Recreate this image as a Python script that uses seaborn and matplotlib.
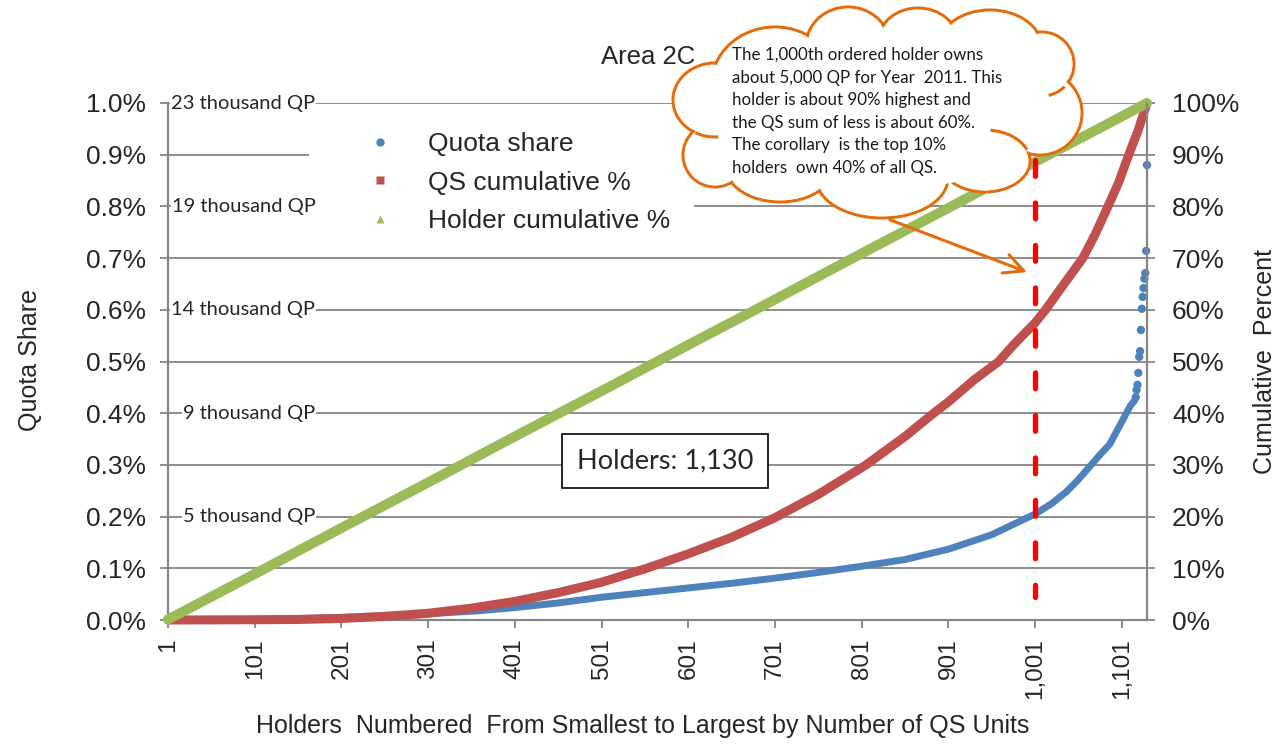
import matplotlib
matplotlib.use("Agg")
import matplotlib.pyplot as plt
import seaborn as sns
from matplotlib.lines import Line2D
from matplotlib.patches import Ellipse, Arc

# ---- values ----
# quota share (% of area total) along the ranked holders, dense part
share_rank = [1, 101, 201, 301, 361, 401, 451, 501, 551, 601, 651, 701, 751,
              801, 851, 901, 951, 1001, 1020, 1037, 1050, 1064, 1076, 1087,
              1095, 1103, 1111, 1116]
share_pct = [0.0, 0.001, 0.005, 0.012, 0.018, 0.024, 0.033, 0.044, 0.053,
             0.062, 0.071, 0.081, 0.092, 0.104, 0.117, 0.137, 0.165, 0.205,
             0.225, 0.248, 0.27, 0.297, 0.32, 0.34, 0.365, 0.39, 0.415, 0.425]
# largest holders, drawn as separate dots
top_rank = [1117, 1118, 1119, 1120, 1121, 1122, 1123, 1124, 1125, 1126,
            1127, 1128, 1129, 1130]
top_share = [0.431, 0.445, 0.455, 0.478, 0.509, 0.52, 0.561, 0.602, 0.625,
             0.642, 0.66, 0.671, 0.714, 0.88]

# QS cumulative %
cum_rank = [1, 101, 151, 201, 251, 301, 351, 401, 451, 501, 553, 601, 651,
            701, 751, 806, 851, 884, 901, 931, 959, 976, 1001, 1013, 1030,
            1056, 1070, 1085, 1097, 1109, 1120, 1130]
cum_qs = [0, 0.05, 0.1, 0.3, 0.7, 1.3, 2.3, 3.6, 5.3, 7.3, 10, 12.8, 16.0,
          19.8, 24.3, 30, 35.5, 40, 42.2, 46.5, 50, 53.2, 57.5, 60, 64, 70,
          74.5, 80, 84.5, 90, 94.8, 100]

# holder cumulative %
hold_rank = [1, 101, 201, 301, 401, 501, 601, 701, 801, 901, 1001, 1101, 1130]
hold_cum = [0.1, 8.9, 17.8, 26.6, 35.5, 44.3, 53.2, 62.0, 70.9, 79.7, 88.6,
            97.4, 100]

x_ticks = [1, 101, 201, 301, 401, 501, 601, 701, 801, 901, 1001, 1101]
x_labels = ['1', '101', '201', '301', '401', '501', '601', '701', '801',
            '901', '1,001', '1,101']
left_ticks = [0.0, 0.1, 0.2, 0.3, 0.4, 0.5, 0.6, 0.7, 0.8, 0.9, 1.0]
left_labels = ['0.0%', '0.1%', '0.2%', '0.3%', '0.4%', '0.5%', '0.6%',
               '0.7%', '0.8%', '0.9%', '1.0%']
right_ticks = [0, 10, 20, 30, 40, 50, 60, 70, 80, 90, 100]
right_labels = ['0%', '10%', '20%', '30%', '40%', '50%', '60%', '70%', '80%',
                '90%', '100%']
qp_levels = [100, 80, 60, 40, 20]   # same heights as 1.0% ... 0.2% on the left axis
qp_labels = ['23 thousand QP', '19 thousand QP', '14 thousand QP',
             '9 thousand QP', '5 thousand QP']
legend_labels = ['Quota share', 'QS cumulative %', 'Holder cumulative %']
cloud_lines = ['The 1,000th ordered holder owns',
               'about 5,000 QP for Year  2011. This',
               'holder is about 90% highest and',
               'the QS sum of less is about 60%.',
               'The corollary  is the top 10%',
               'holders  own 40% of all QS.']

BLUE = '#4F81BD'
RED = '#C0504D'
GREEN = '#9BBB59'
ORANGE = '#E46C0A'
GRAY = '#868686'
CAL = ['Lato', 'DejaVu Sans']

sns.set_style('white')
plt.rcParams['font.family'] = ['Liberation Sans', 'DejaVu Sans']

W, H = 1283, 744
fig = plt.figure(figsize=(W / 100, H / 100), dpi=100)
ax = fig.add_axes([168 / W, 1 - 620 / H, 979 / W, 517 / H])
ax2 = ax.twinx()

# primary axis: quota share
sns.lineplot(x=share_rank, y=share_pct, ax=ax, color=BLUE, lw=5.0,
             estimator=None, sort=False, legend=False, solid_capstyle='round')
sns.scatterplot(x=top_rank, y=top_share, ax=ax, color=BLUE, s=36,
                edgecolor='none', legend=False, clip_on=False, zorder=3)

# secondary axis: cumulative percents
sns.lineplot(x=cum_rank, y=cum_qs, ax=ax2, color=RED, lw=6.5, estimator=None,
             sort=False, legend=False, clip_on=False)
sns.lineplot(x=hold_rank, y=hold_cum, ax=ax2, color=GREEN, lw=7.2,
             estimator=None, sort=False, legend=False, clip_on=False)
ax2.plot([1001, 1001], [89, 4.5], color='#FF0000', lw=3.8, dashes=(3.0, 5.05),
         dash_capstyle='round', zorder=5)

ax.set_xlim(1, 1130)
ax.set_ylim(0, 1.0)
ax2.set_ylim(0, 100)

ax.set_xticks(x_ticks)
ax.set_xticklabels(x_labels, rotation=90, fontsize=17.5)
ax.set_yticks(left_ticks)
ax.set_yticklabels(left_labels, fontsize=19)
ax2.set_yticks(right_ticks)
ax2.set_yticklabels(right_labels, fontsize=19)

ax.tick_params(axis='x', bottom=True, direction='out', length=6, width=1.3,
               color=GRAY, pad=7)
ax.tick_params(axis='y', left=True, direction='out', length=6, width=1.3,
               color=GRAY, pad=10)
ax2.tick_params(axis='y', right=True, direction='out', length=6, width=1.3,
                color=GRAY, pad=12)

for s in ['top', 'right']:
    ax.spines[s].set_visible(False)
for s in ['top', 'left', 'bottom']:
    ax2.spines[s].set_visible(False)
for sp in [ax.spines['left'], ax.spines['bottom'], ax2.spines['right']]:
    sp.set_color(GRAY)
    sp.set_linewidth(1.6)

ax.grid(axis='y', color=GRAY, lw=1.3)
ax.set_axisbelow(True)
ax2.grid(False)

ax.set_xlabel('Holders  Numbered  From Smallest to Largest by Number of QS Units',
              fontsize=18)
ax.xaxis.set_label_coords(0.485, -0.182)
ax.set_ylabel('Quota Share', fontsize=18)
ax.yaxis.set_label_coords(-0.129, 0.503)
ax2.set_ylabel('Cumulative  Percent', fontsize=18)
ax2.yaxis.set_label_coords(1.108, 0.5)

fig.text(648 / W, 1 - 57 / H, 'Area 2C', ha='center', va='center', fontsize=18.5)

for lev, lab in zip(qp_levels, qp_labels):
    ax2.text(171, lev, lab, ha='right', va='center', fontsize=14.5,
             family=CAL, zorder=12,
             bbox=dict(boxstyle='square,pad=0.05', fc='white', ec='none'))

ax2.text(574, 30.75, 'Holders: 1,130', ha='center', va='center',
         fontsize=19.5, family=CAL, zorder=6,
         bbox=dict(boxstyle='square,pad=0.55', fc='white', ec='black', lw=1.2))

handles = [Line2D([], [], ls='none', marker='o', ms=6, color=BLUE, mec='none'),
           Line2D([], [], ls='none', marker='s', ms=5.5, color=RED, mec='none'),
           Line2D([], [], ls='none', marker='^', ms=6, color=GREEN, mec='none')]
leg = ax2.legend(handles, legend_labels, loc='upper left',
                 bbox_to_anchor=((309 - 168) / 979, (620 - 108) / 517),
                 fontsize=19, frameon=True, facecolor='white', edgecolor='none',
                 framealpha=1, fancybox=False, borderpad=0.9, handlelength=3.6,
                 handletextpad=0.0, labelspacing=0.56, borderaxespad=0)
leg.set_zorder(10)

# callout arrow
ax2.annotate('', xy=(991.6, 67.3), xytext=(833.6, 77.4),
             arrowprops=dict(arrowstyle='->,head_length=0.7,head_width=0.35',
                             color=ORANGE, lw=2.2, mutation_scale=20,
                             shrinkA=0, shrinkB=0),
             zorder=7)

# cloud callout on a pixel overlay
ov = fig.add_axes([0, 0, 1, 1])
ov.set_xlim(0, W)
ov.set_ylim(H, 0)
ov.axis('off')
bumps = [(715, 100, 42, 37), (775, 86, 64, 59), (848, 46, 42, 39),
         (918, 42, 40, 34), (990, 48, 52, 38), (1042, 64, 32, 32),
         (1040, 113, 42, 42), (985, 161, 45, 31), (882, 178, 66, 40),
         (780, 165, 55, 37), (715, 155, 32, 32)]
for cx, cy, rx, ry in bumps:
    ov.add_patch(Ellipse((cx, cy), 2 * rx, 2 * ry, fc='white', ec=ORANGE,
                         lw=2.2, zorder=1))
for cx, cy, rx, ry in bumps:
    ov.add_patch(Ellipse((cx, cy), 2 * rx - 3.5, 2 * ry - 3.5, fc='white',
                         ec='none', zorder=2))
ov.add_patch(Ellipse((880, 112), 340, 156, fc='white', ec='none', zorder=2))
# inner hooks typical of the cloud shape
ov.add_patch(Arc((985, 161), 90, 62, theta1=-80, theta2=-15, color=ORANGE,
                 lw=2.2, zorder=3))
ov.add_patch(Arc((715, 100), 84, 74, theta1=85, theta2=121, color=ORANGE,
                 lw=2.2, zorder=3))
ov.add_patch(Arc((1042, 64), 64, 64, theta1=45, theta2=78, color=ORANGE,
                 lw=2.2, zorder=3))
for i, line in enumerate(cloud_lines):
    ov.text(732, 55 + i * 22.6, line, ha='left', va='center', fontsize=12.2,
            family=CAL, color='#1a1a1a', zorder=4)

fig.savefig('out.png', dpi=100)
